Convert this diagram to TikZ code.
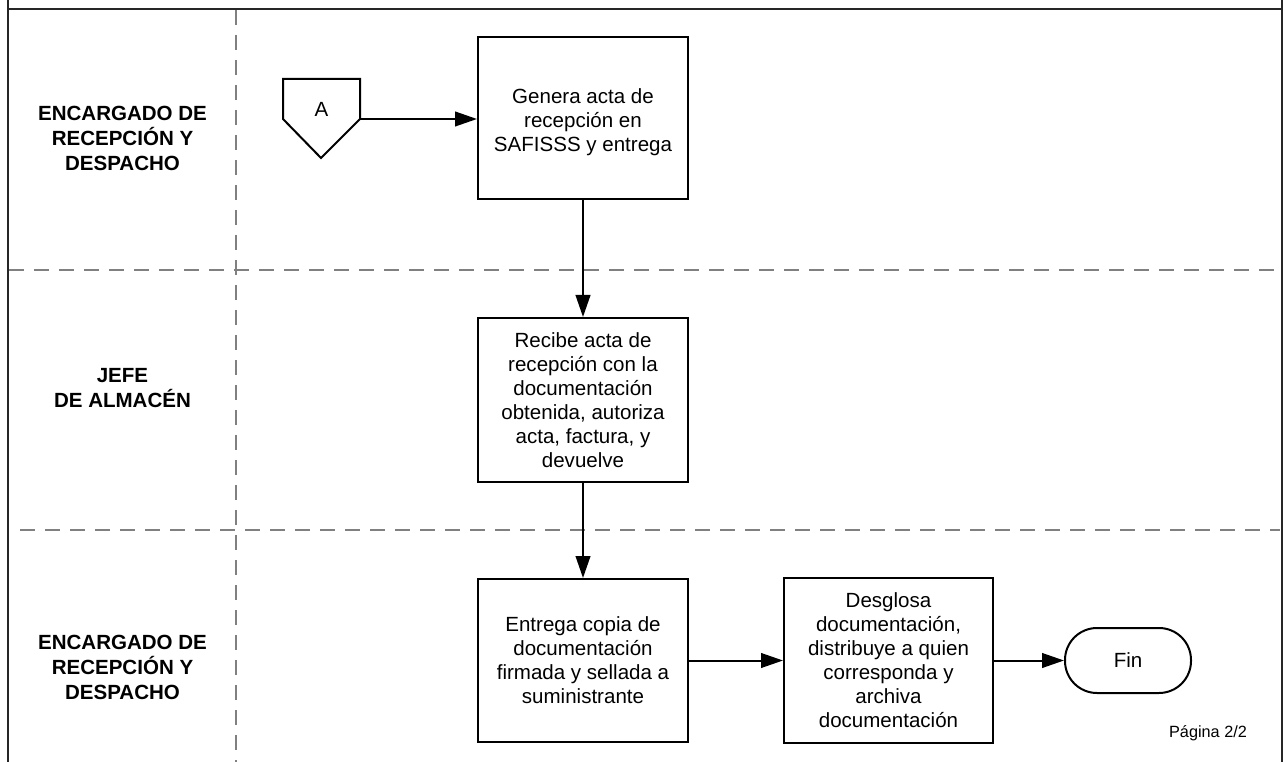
\documentclass[tikz,border=0pt]{standalone}
\usepackage{fontspec}
\setmainfont{Liberation Sans}
\usetikzlibrary{arrows.meta,shapes.geometric}
\begin{document}
\begin{tikzpicture}[x=0.75pt,y=-0.75pt,
  frame/.style={line width=1.5pt,draw=black!85},
  lanesep/.style={line width=1.5pt,draw=black!50,dash pattern=on 11.25pt off 7.5pt},
  procbox/.style={draw,line width=1.5pt,rectangle,align=center,inner sep=0pt,
     minimum width=157.5pt,minimum height=122pt,font=\fontsize{15.4}{18}\selectfont},
  lanelabel/.style={align=center,font=\fontsize{15.4}{18.75}\selectfont\bfseries},
  flow/.style={line width=1.5pt,-{Triangle[length=16.5pt,width=11pt]}},
  endnode/.style={draw,line width=1.5pt,rectangle,rounded corners=24pt,
     minimum width=94.5pt,minimum height=48.75pt,font=\fontsize{15.4}{18}\selectfont}]
\useasboundingbox (0,0) rectangle (1285,762);
% frame
\draw[frame] (8,0) -- (8,762);
\draw[frame] (1281.5,0) -- (1281.5,762);
\draw[frame] (8,9) -- (1281.5,9);
% lane separators
\draw[lanesep] (236,10) -- (236,762);
\draw[lanesep] (9,270) -- (1280,270);
\draw[lanesep] (20,530.5) -- (1280,530.5);
% lane labels
\node[lanelabel] (l1) at (122.5,138) {ENCARGADO DE\\RECEPCIÓN Y\\DESPACHO};
\node[lanelabel] (l2) at (122.5,388) {JEFE\\DE ALMACÉN};
\node[lanelabel] (l3) at (122.5,667) {ENCARGADO DE\\RECEPCIÓN Y\\DESPACHO};
% off-page connector A
\draw[line width=1.5pt] (283,79) -- (360,79) -- (360,119) -- (321,158) -- (283,119) -- cycle;
\coordinate (aout) at (360,119);
\node[font=\fontsize{15.4}{18}\selectfont] (a) at (321.5,109) {A};
% process boxes
\node[procbox,minimum height=121.5pt] (b1) at (583,118) {\rule{0pt}{17pt}Genera acta de\\recepción en\\SAFISSS y entrega};
\node[procbox,minimum height=123pt] (b2) at (583,400) {Recibe acta de\\recepción con la\\documentación\\obtenida, autoriza\\acta, factura, y\\devuelve};
\node[procbox,minimum height=122.25pt] (b3) at (583,660.5) {Entrega copia de\\documentación\\firmada y sellada a\\suministrante};
\node[procbox,minimum width=156.75pt,minimum height=123.75pt] (b4) at (888.5,660.5) {Desglosa\\documentación,\\distribuye a quien\\corresponda y\\archiva\\documentación};
\node[endnode] (fin) at (1128,660.5) {Fin};
% connectors
\draw[flow] (aout) -- (aout -| b1.west);
\draw[flow] (b1) -- (b2);
\draw[flow] (b2) -- (b3);
\draw[flow] (b3) -- (b4);
\draw[flow] (b4) -- (fin);
% page number
\node[font=\fontsize{12.2}{14}\selectfont] (pg) at (1208,733) {Página 2/2};
\end{tikzpicture}
\end{document}
